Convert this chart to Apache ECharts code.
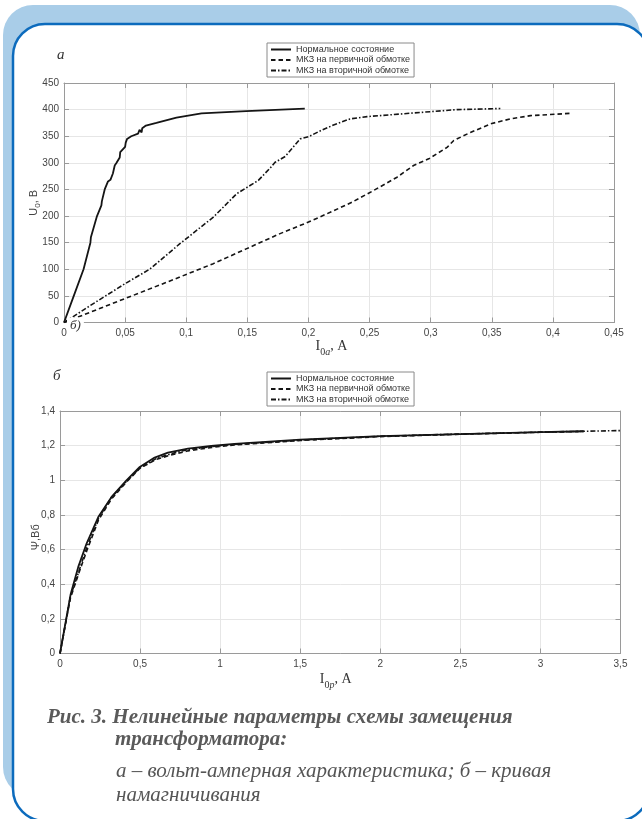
<!DOCTYPE html>
<html>
<head>
<meta charset="utf-8">
<script src="https://cdn.jsdelivr.net/npm/echarts@6/dist/echarts.min.js"></script>
<style>
  html, body { margin: 0; padding: 0; background: #ffffff; }
  #chart { width: 642px; height: 819px; }
</style>
</head>
<body>
<div id="chart"></div>
<script>
// Series names shared by both panels
const seriesNames = ['Нормальное состояние', 'МКЗ на первичной обмотке', 'МКЗ на вторичной обмотке'];

// Panel а: volt-ampere characteristic, [I0a (A), U0 (V)]
const vaNormal = [
  [0, 0], [0.008, 50], [0.016, 100], [0.0216, 150], [0.022, 160], [0.027, 200],
  [0.0306, 220], [0.031, 228], [0.0333, 250], [0.036, 265], [0.038, 268],
  [0.040, 280], [0.0415, 295], [0.043, 300], [0.0456, 310], [0.046, 320],
  [0.050, 330], [0.0505, 338], [0.0516, 345], [0.055, 350], [0.0606, 355],
  [0.0618, 362], [0.0635, 357], [0.064, 365], [0.067, 370], [0.0756, 375],
  [0.092, 385], [0.1125, 393], [0.149, 397], [0.197, 402]
];
const vaPrimary = [
  [0, 0], [0.05, 45], [0.0948, 85.5], [0.1222, 110.6], [0.1495, 138.8],
  [0.1768, 167], [0.2, 188.7], [0.2178, 207], [0.2356, 226], [0.2533, 248],
  [0.2725, 273], [0.286, 295], [0.2984, 307.5], [0.3134, 329], [0.3189, 342],
  [0.3325, 357], [0.35, 374], [0.3653, 382.5], [0.3817, 388.7], [0.4145, 393]
];
const vaSecondary = [
  [0, 0], [0.025, 37], [0.05, 73], [0.07, 100], [0.0948, 148], [0.1222, 198],
  [0.1413, 242], [0.159, 267], [0.1686, 290], [0.1727, 301], [0.181, 312],
  [0.1932, 345], [0.2, 349], [0.2096, 360], [0.2205, 371], [0.234, 382.5],
  [0.2479, 386.8], [0.286, 393.7], [0.3217, 400], [0.357, 402]
];

// Panel б: magnetisation curve, [I0p (A), Ψ (Wb)]
const magNormal = [
  [0, 0], [0.066, 0.34], [0.114, 0.5], [0.166, 0.635], [0.239, 0.788],
  [0.322, 0.904], [0.415, 1.0], [0.498, 1.077], [0.591, 1.131], [0.674, 1.16],
  [0.799, 1.183], [0.944, 1.198], [1.089, 1.21], [1.5, 1.235], [2, 1.255],
  [2.5, 1.267], [3, 1.278], [3.27, 1.283]
];
const magPrimary = [
  [0, 0], [0.065, 0.32], [0.12, 0.47], [0.17, 0.6], [0.24, 0.77], [0.32, 0.89],
  [0.42, 0.995], [0.5, 1.07], [0.6, 1.12], [0.7, 1.148], [0.8, 1.17],
  [0.95, 1.19], [1.1, 1.205], [1.5, 1.23], [2, 1.252], [2.5, 1.266],
  [3, 1.277], [3.27, 1.282]
];
const magSecondary = [
  [0, 0], [0.065, 0.33], [0.12, 0.48], [0.17, 0.62], [0.24, 0.78], [0.32, 0.9],
  [0.42, 0.998], [0.5, 1.072], [0.6, 1.125], [0.7, 1.155], [0.8, 1.178],
  [0.95, 1.195], [1.1, 1.208], [1.5, 1.232], [2, 1.254], [2.5, 1.267],
  [3, 1.278], [3.27, 1.283], [3.5, 1.287]
];

// Axis ranges and tick steps
const vaXTicks = { min: 0, max: 0.45, interval: 0.05 };
const vaYTicks = { min: 0, max: 450, interval: 50 };
const magXTicks = { min: 0, max: 3.5, interval: 0.5 };
const magYTicks = { min: 0, max: 1.4, interval: 0.2 };

const captionLines = [
  'Рис. 3. Нелинейные параметры схемы замещения',
  'трансформатора:',
  'а – вольт-амперная характеристика; б – кривая',
  'намагничивания'
];

const SANS = '"Liberation Sans", Arial, sans-serif';
const SERIF = '"Liberation Serif", "Times New Roman", serif';
const AXIS_GRAY = '#9a9a9a';
const LABEL_GRAY = '#444444';

function commaNum(v) {
  return String(Math.round(v * 100) / 100).replace('.', ',');
}

// Four axes per panel: labelled bottom/left and bare top/right, all with inward ticks (boxed plot)
function xAxes(grid, ticks, name, nameGap, shiftPad) {
  const base = {
    type: 'value', gridIndex: grid, min: ticks.min, max: ticks.max, interval: ticks.interval,
    axisLine: { show: true, onZero: false, lineStyle: { color: AXIS_GRAY, width: 1 } },
    axisTick: { show: true, inside: true, length: 5, lineStyle: { color: AXIS_GRAY } }
  };
  return [
    Object.assign({}, base, {
      position: 'bottom',
      name: name, nameLocation: 'middle', nameGap: nameGap, nameMoveOverlap: false,
      nameTextStyle: {
        padding: [0, shiftPad, 0, 0],
        rich: {
          r: { fontFamily: SERIF, fontSize: 14, color: '#333', lineHeight: 18, verticalAlign: 'top' },
          s: { fontFamily: SERIF, fontSize: 10, color: '#333', lineHeight: 10, verticalAlign: 'bottom' },
          i: { fontFamily: SERIF, fontSize: 10, fontStyle: 'italic', color: '#333', lineHeight: 10, verticalAlign: 'bottom' }
        }
      },
      axisLabel: { color: LABEL_GRAY, fontFamily: SANS, fontSize: 10, margin: 6, formatter: commaNum },
      splitLine: { show: true, lineStyle: { color: '#e6e6e6', width: 1 } }
    }),
    Object.assign({}, base, {
      position: 'top', axisLabel: { show: false }, splitLine: { show: false }
    })
  ];
}

function yAxes(grid, ticks, name, nameGap, shiftPad) {
  const base = {
    type: 'value', gridIndex: grid, min: ticks.min, max: ticks.max, interval: ticks.interval,
    axisLine: { show: true, onZero: false, lineStyle: { color: AXIS_GRAY, width: 1 } },
    axisTick: { show: true, inside: true, length: 5, lineStyle: { color: AXIS_GRAY } }
  };
  return [
    Object.assign({}, base, {
      position: 'left',
      name: name, nameLocation: 'middle', nameGap: nameGap, nameRotate: 90, nameMoveOverlap: false,
      nameTextStyle: {
        padding: [0, shiftPad, 0, 0],
        rich: {
          r: { fontFamily: SANS, fontSize: 11, color: '#444', lineHeight: 14, verticalAlign: 'top' },
          s: { fontFamily: SANS, fontSize: 8, color: '#444', lineHeight: 8, verticalAlign: 'bottom' }
        }
      },
      axisLabel: { color: LABEL_GRAY, fontFamily: SANS, fontSize: 10, margin: 5, formatter: commaNum },
      splitLine: { show: true, lineStyle: { color: '#e6e6e6', width: 1 } }
    }),
    Object.assign({}, base, {
      position: 'right', axisLabel: { show: false }, splitLine: { show: false }
    })
  ];
}

const LINE_COLOR = '#151515';
const styles = [
  { type: 'solid', width: 1.8 },
  { type: [4.5, 3], width: 1.6 },
  { type: [5, 2, 1.5, 2], width: 1.6 }
];

function lineSeries(idx, data, xi, yi) {
  return {
    type: 'line', name: seriesNames[idx], data: data,
    xAxisIndex: xi, yAxisIndex: yi,
    symbol: 'none', smooth: false, animation: false,
    lineStyle: { color: LINE_COLOR, width: styles[idx].width, type: styles[idx].type },
    itemStyle: { color: LINE_COLOR },
    z: 3
  };
}

function legendAt(top) {
  return {
    data: seriesNames, orient: 'vertical', left: 267, top: top,
    selectedMode: false,
    itemWidth: 20, itemHeight: 10, itemGap: 1.5,
    padding: [2, 4, 2, 3],
    backgroundColor: '#ffffff', borderColor: '#8a8a8a', borderWidth: 1, borderRadius: 0,
    // only the line sample is shown, no marker on it
    itemStyle: { color: 'rgba(0,0,0,0)', borderColor: 'rgba(0,0,0,0)', borderWidth: 0 },
    textStyle: { fontFamily: SANS, fontSize: 9, color: '#333333' },
    z: 10
  };
}

const chart = echarts.init(document.getElementById('chart'), null, { renderer: 'canvas' });

const frame = [
  { type: 'rect', z: -20, shape: { x: 3, y: 5, width: 637, height: 792, r: 30 },
    style: { fill: '#a9cde8' } },
  { type: 'rect', z: -19, shape: { x: 13, y: 24, width: 636, height: 797, r: 32 },
    style: { fill: '#ffffff', stroke: '#0c6bbd', lineWidth: 2.5 } }
];

const texts = [
  { type: 'text', z: 50, x: 57, y: 55,
    style: { text: 'а', font: 'italic 15px ' + SERIF, fill: '#333', textVerticalAlign: 'middle' } },
  { type: 'text', z: 50, x: 53, y: 376,
    style: { text: 'б', font: 'italic 15px ' + SERIF, fill: '#333', textVerticalAlign: 'middle' } },
  { type: 'text', z: 50, x: 67, y: 326,
    style: { text: 'б)', font: 'italic 13px ' + SERIF, fill: '#333', textVerticalAlign: 'middle',
             backgroundColor: '#ffffff', padding: [2, 3, 2, 3] } },
  { type: 'text', z: 50, x: 47, y: 718,
    style: { text: captionLines[0], font: 'italic bold 21px ' + SERIF, fill: '#5a5a5a', textVerticalAlign: 'middle' } },
  { type: 'text', z: 50, x: 115, y: 740,
    style: { text: captionLines[1], font: 'italic bold 21px ' + SERIF, fill: '#5a5a5a', textVerticalAlign: 'middle' } },
  { type: 'text', z: 50, x: 116, y: 771,
    style: { text: captionLines[2], font: 'italic 21px ' + SERIF, fill: '#555555', textVerticalAlign: 'middle' } },
  { type: 'text', z: 50, x: 116, y: 795,
    style: { text: captionLines[3], font: 'italic 21px ' + SERIF, fill: '#555555', textVerticalAlign: 'middle' } }
];

const option = {
  animation: false,
  backgroundColor: '#ffffff',
  graphic: { elements: frame.concat(texts) },
  legend: [legendAt(43), legendAt(372)],
  grid: [
    { left: 64, top: 83, width: 550, height: 239.5, containLabel: false },
    { left: 60, top: 411, width: 560.5, height: 242.5, containLabel: false }
  ],
  xAxis: []
    .concat(xAxes(0, vaXTicks, '{r|I}{s|0}{i|a}{r|, А}', 17, 15))
    .concat(xAxes(1, magXTicks, '{r|I}{s|0}{i|p}{r|, А}', 19, 9)),
  yAxis: []
    .concat(yAxes(0, vaYTicks, '{r|U}{s|0}{r|, В}', 22, 0))
    .concat(yAxes(1, magYTicks, '{r|Ψ,Вб}', 16, 10)),
  series: [
    lineSeries(0, vaNormal, 0, 0),
    lineSeries(1, vaPrimary, 0, 0),
    lineSeries(2, vaSecondary, 0, 0),
    lineSeries(0, magNormal, 2, 2),
    lineSeries(1, magPrimary, 2, 2),
    lineSeries(2, magSecondary, 2, 2)
  ]
};

chart.setOption(option);
</script>
</body>
</html>
